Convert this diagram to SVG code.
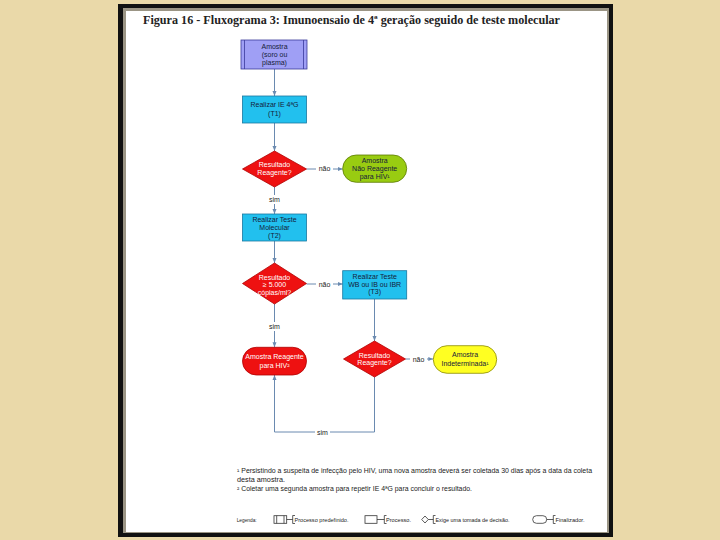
<svg xmlns="http://www.w3.org/2000/svg" width="720" height="540" viewBox="0 0 720 540">
<style>
.nt{font-family:"Liberation Sans",Arial,sans-serif;font-size:7px;text-anchor:middle;fill:#15203a}
.wt{font-family:"Liberation Sans",Arial,sans-serif;font-size:7px;text-anchor:middle;fill:#ffffff}
.lb{font-family:"Liberation Sans",Arial,sans-serif;font-size:7px;text-anchor:middle;fill:#222}
.fn{font-family:"Liberation Sans",Arial,sans-serif;font-size:6.5px;fill:#222}
.lg{font-family:"Liberation Sans",Arial,sans-serif;font-size:5.5px;fill:#222}
.cn{fill:none;stroke:#6a8ab0;stroke-width:1}
.li{fill:none;stroke:#333;stroke-width:0.8}
</style>
<defs>
<marker id="ah" viewBox="0 0 10 10" refX="10" refY="5" markerWidth="5" markerHeight="5" orient="auto" markerUnits="userSpaceOnUse">
<path d="M0,1 L10,5 L0,9 Z" fill="#6a8ab0"/>
</marker>
</defs>
<rect width="720" height="540" fill="#ead9a9"/>
<rect x="118" y="4" width="495" height="533" fill="#111"/>
<rect x="123" y="8" width="486" height="525" fill="#9b9585"/>
<rect x="126" y="11" width="481" height="521" fill="#ffffff"/>
<text x="143" y="24" font-family="Liberation Serif,Times New Roman,serif" font-size="13" font-weight="bold" fill="#222" textLength="417" lengthAdjust="spacingAndGlyphs">Figura 16 - Fluxograma 3: Imunoensaio de 4ª geração seguido de teste molecular</text>

<g id="connectors">
<line class="cn" x1="274.5" y1="69" x2="274.5" y2="96" marker-end="url(#ah)"/>
<line class="cn" x1="274.5" y1="123" x2="274.5" y2="151" marker-end="url(#ah)"/>
<line class="cn" x1="306.5" y1="169" x2="342.7" y2="169" marker-end="url(#ah)"/>
<line class="cn" x1="274.5" y1="187" x2="274.5" y2="214" marker-end="url(#ah)"/>
<line class="cn" x1="274.5" y1="241" x2="274.5" y2="263" marker-end="url(#ah)"/>
<line class="cn" x1="306.5" y1="284" x2="342.7" y2="284" marker-end="url(#ah)"/>
<line class="cn" x1="274.5" y1="304" x2="274.5" y2="347.3" marker-end="url(#ah)"/>
<line class="cn" x1="374.5" y1="299" x2="374.5" y2="341" marker-end="url(#ah)"/>
<line class="cn" x1="405.5" y1="359" x2="433.3" y2="359" marker-end="url(#ah)"/>
<polyline class="cn" points="374.5,377 374.5,432 274.5,432 274.5,375" marker-end="url(#ah)"/>
<rect x="316" y="164" width="17" height="9" fill="#fff"/>
<text class="lb" x="324.5" y="171">não</text>
<rect x="267" y="195" width="15" height="9" fill="#fff"/>
<text class="lb" x="274.5" y="201.5">sim</text>
<rect x="316" y="279" width="17" height="9" fill="#fff"/>
<text class="lb" x="324.5" y="286.5">não</text>
<rect x="267" y="322" width="15" height="9" fill="#fff"/>
<text class="lb" x="274.5" y="328.5">sim</text>
<rect x="410" y="354" width="17" height="9" fill="#fff"/>
<text class="lb" x="418.5" y="361.5">não</text>
<rect x="315" y="427" width="15" height="9" fill="#fff"/>
<text class="lb" x="322.5" y="434.5">sim</text>
</g>

<g id="amostra">
<rect x="241" y="40" width="66" height="29" fill="#9f9ff5" stroke="#3a3a9a" stroke-width="0.8"/>
<line x1="244.5" y1="40" x2="244.5" y2="69" stroke="#3a3a9a" stroke-width="0.8"/>
<line x1="303.5" y1="40" x2="303.5" y2="69" stroke="#3a3a9a" stroke-width="0.8"/>
<text class="nt" x="274.5" y="48.5">Amostra</text>
<text class="nt" x="274.5" y="56.5">(soro ou</text>
<text class="nt" x="274.5" y="64.5">plasma)</text>
</g>

<g id="t1">
<rect x="242.5" y="96" width="64" height="27" fill="#22c0ee" stroke="#1a78a0" stroke-width="0.8"/>
<text class="nt" x="274.5" y="107">Realizar IE 4ªG</text>
<text class="nt" x="274.5" y="116">(T1)</text>
</g>

<g id="dec1">
<polygon points="274.5,151 306.5,169 274.5,187 242.5,169" fill="#ee1111" stroke="#b00000" stroke-width="0.8"/>
<text class="wt" x="274.5" y="167">Resultado</text>
<text class="wt" x="274.5" y="175">Reagente?</text>
</g>

<g id="naoreagente">
<rect x="342.7" y="155" width="64" height="27.3" rx="13.6" fill="#99cc11" stroke="#5a7a00" stroke-width="0.8"/>
<text class="nt" x="374.7" y="162.5">Amostra</text>
<text class="nt" x="374.7" y="170.5">Não Reagente</text>
<text class="nt" x="374.7" y="178.5">para HIV¹</text>
</g>

<g id="t2">
<rect x="242.5" y="214" width="64" height="27" fill="#22c0ee" stroke="#1a78a0" stroke-width="0.8"/>
<text class="nt" x="274.5" y="222">Realizar Teste</text>
<text class="nt" x="274.5" y="230">Molecular</text>
<text class="nt" x="274.5" y="237.8">(T2)</text>
</g>

<g id="dec2">
<polygon points="274.5,263 306.5,283.5 274.5,304 242.5,283.5" fill="#ee1111" stroke="#b00000" stroke-width="0.8"/>
<text class="wt" x="274.5" y="280">Resultado</text>
<text class="wt" x="274.5" y="287.3">≥ 5.000</text>
<text class="wt" x="274.5" y="294.5">cópias/ml?</text>
</g>

<g id="t3">
<rect x="342.7" y="270.7" width="64" height="28.3" fill="#22c0ee" stroke="#1a78a0" stroke-width="0.8"/>
<text class="nt" x="374.7" y="278.5">Realizar Teste</text>
<text class="nt" x="374.7" y="286.5">WB ou IB ou IBR</text>
<text class="nt" x="374.7" y="294.3">(T3)</text>
</g>

<g id="reagente">
<rect x="242.5" y="347.3" width="64" height="27.7" rx="13.8" fill="#ee1111" stroke="#b00000" stroke-width="0.8"/>
<text class="wt" x="274.5" y="359">Amostra Reagente</text>
<text class="wt" x="274.5" y="367.5">para HIV²</text>
</g>

<g id="dec3">
<polygon points="374.5,341 405.5,359 374.5,377 343.5,359" fill="#ee1111" stroke="#b00000" stroke-width="0.8"/>
<text class="wt" x="374.5" y="357.5">Resultado</text>
<text class="wt" x="374.5" y="365.3">Reagente?</text>
</g>

<g id="indeterminada">
<rect x="433.3" y="345.7" width="63.4" height="27.6" rx="13.8" fill="#ffff22" stroke="#8a8a00" stroke-width="0.8"/>
<text class="nt" x="465" y="357">Amostra</text>
<text class="nt" x="465" y="366">Indeterminada¹</text>
</g>

<g id="notes">
<text class="fn" x="237" y="473" textLength="355" lengthAdjust="spacingAndGlyphs">¹ Persistindo a suspeita de infecção pelo HIV, uma nova amostra deverá ser coletada 30 dias após a data da coleta</text>
<text class="fn" x="237" y="482" textLength="48" lengthAdjust="spacingAndGlyphs">desta amostra.</text>
<text class="fn" x="237" y="491" textLength="235" lengthAdjust="spacingAndGlyphs">² Coletar uma segunda amostra para repetir IE 4ªG para concluir o resultado.</text>
</g>

<g id="legend">
<text class="lg" x="236.7" y="521.5" textLength="20" lengthAdjust="spacingAndGlyphs">Legenda:</text>
<rect class="li" x="274" y="515.7" width="12.7" height="7.6"/>
<line class="li" x1="276.7" y1="515.7" x2="276.7" y2="523.3"/>
<line class="li" x1="284" y1="515.7" x2="284" y2="523.3"/>
<line class="li" x1="286.7" y1="519.5" x2="292.7" y2="519.5"/>
<polyline class="li" points="295,515.5 292.7,515.5 292.7,523.5 295,523.5"/>
<text class="lg" x="294.5" y="521.5" textLength="54" lengthAdjust="spacingAndGlyphs">Processo predefinido.</text>
<rect class="li" x="365" y="515.7" width="12" height="7.6"/>
<line class="li" x1="377" y1="519.5" x2="384.3" y2="519.5"/>
<polyline class="li" points="386.5,515.5 384.3,515.5 384.3,523.5 386.5,523.5"/>
<text class="lg" x="386" y="521.5" textLength="25" lengthAdjust="spacingAndGlyphs">Processo.</text>
<polygon class="li" points="425,516 428.3,519.5 425,523 421.7,519.5"/>
<line class="li" x1="428.3" y1="519.5" x2="433.3" y2="519.5"/>
<polyline class="li" points="435.5,515.5 433.3,515.5 433.3,523.5 435.5,523.5"/>
<text class="lg" x="435.5" y="521.5" textLength="74" lengthAdjust="spacingAndGlyphs">Exige uma tomada de decisão.</text>
<rect class="li" x="532.7" y="515.7" width="14" height="7.6" rx="3.8"/>
<line class="li" x1="546.7" y1="519.5" x2="553.3" y2="519.5"/>
<polyline class="li" points="555.5,515.5 553.3,515.5 553.3,523.5 555.5,523.5"/>
<text class="lg" x="555.5" y="521.5" textLength="29" lengthAdjust="spacingAndGlyphs">Finalizador.</text>
</g>
</svg>
